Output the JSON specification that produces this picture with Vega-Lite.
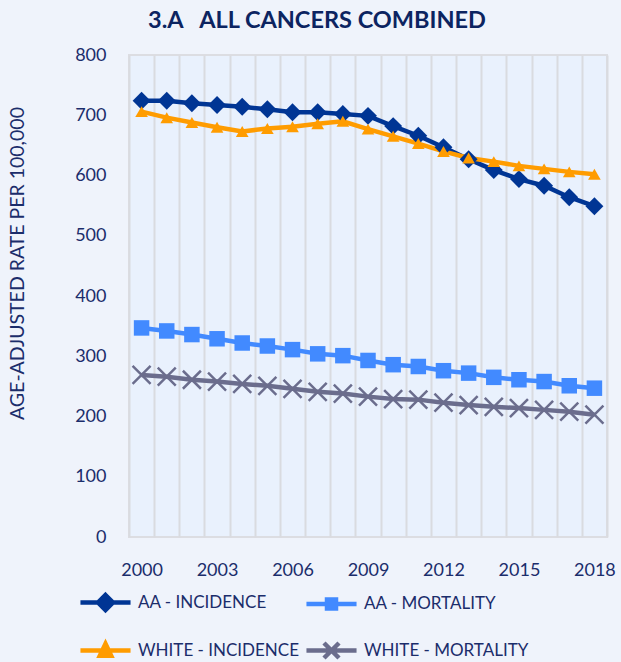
{
  "$schema": "https://vega.github.io/schema/vega-lite/v6.json",
  "width": 478,
  "height": 482,
  "autosize": {"type": "none"},
  "padding": {"left": 129, "top": 55, "right": 14, "bottom": 125},
  "background": "#eff3fb",
  "config": {
    "view": {"fill": "#e9f1fd", "stroke": "#dcdde2", "strokeWidth": 2},
    "font": "Lato"
  },
  "title": {
    "text": "3.A\u00a0\u00a0\u00a0ALL CANCERS COMBINED",
    "anchor": "middle",
    "frame": "group",
    "dx": -51,
    "offset": -10,
    "baseline": "bottom",
    "font": "Lato",
    "fontSize": 23.5,
    "fontWeight": "bold",
    "color": "#0c2461"
  },
  "data": {
    "values": [
      {"year": 2000, "series": "AA - Incidence", "rate": 724},
      {"year": 2001, "series": "AA - Incidence", "rate": 724},
      {"year": 2002, "series": "AA - Incidence", "rate": 720},
      {"year": 2003, "series": "AA - Incidence", "rate": 717},
      {"year": 2004, "series": "AA - Incidence", "rate": 714},
      {"year": 2005, "series": "AA - Incidence", "rate": 710},
      {"year": 2006, "series": "AA - Incidence", "rate": 705},
      {"year": 2007, "series": "AA - Incidence", "rate": 705},
      {"year": 2008, "series": "AA - Incidence", "rate": 702},
      {"year": 2009, "series": "AA - Incidence", "rate": 699},
      {"year": 2010, "series": "AA - Incidence", "rate": 682},
      {"year": 2011, "series": "AA - Incidence", "rate": 666},
      {"year": 2012, "series": "AA - Incidence", "rate": 647},
      {"year": 2013, "series": "AA - Incidence", "rate": 627},
      {"year": 2014, "series": "AA - Incidence", "rate": 609},
      {"year": 2015, "series": "AA - Incidence", "rate": 594},
      {"year": 2016, "series": "AA - Incidence", "rate": 583},
      {"year": 2017, "series": "AA - Incidence", "rate": 564},
      {"year": 2018, "series": "AA - Incidence", "rate": 549},
      {"year": 2000, "series": "White - Incidence", "rate": 706},
      {"year": 2001, "series": "White - Incidence", "rate": 696},
      {"year": 2002, "series": "White - Incidence", "rate": 688},
      {"year": 2003, "series": "White - Incidence", "rate": 680},
      {"year": 2004, "series": "White - Incidence", "rate": 673},
      {"year": 2005, "series": "White - Incidence", "rate": 678},
      {"year": 2006, "series": "White - Incidence", "rate": 681},
      {"year": 2007, "series": "White - Incidence", "rate": 686},
      {"year": 2008, "series": "White - Incidence", "rate": 690},
      {"year": 2009, "series": "White - Incidence", "rate": 677},
      {"year": 2010, "series": "White - Incidence", "rate": 665},
      {"year": 2011, "series": "White - Incidence", "rate": 653},
      {"year": 2012, "series": "White - Incidence", "rate": 640},
      {"year": 2013, "series": "White - Incidence", "rate": 629},
      {"year": 2014, "series": "White - Incidence", "rate": 623},
      {"year": 2015, "series": "White - Incidence", "rate": 616},
      {"year": 2016, "series": "White - Incidence", "rate": 611},
      {"year": 2017, "series": "White - Incidence", "rate": 606},
      {"year": 2018, "series": "White - Incidence", "rate": 602},
      {"year": 2000, "series": "AA - Mortality", "rate": 347},
      {"year": 2001, "series": "AA - Mortality", "rate": 342},
      {"year": 2002, "series": "AA - Mortality", "rate": 336},
      {"year": 2003, "series": "AA - Mortality", "rate": 329},
      {"year": 2004, "series": "AA - Mortality", "rate": 322},
      {"year": 2005, "series": "AA - Mortality", "rate": 317},
      {"year": 2006, "series": "AA - Mortality", "rate": 311},
      {"year": 2007, "series": "AA - Mortality", "rate": 304},
      {"year": 2008, "series": "AA - Mortality", "rate": 301},
      {"year": 2009, "series": "AA - Mortality", "rate": 293},
      {"year": 2010, "series": "AA - Mortality", "rate": 286},
      {"year": 2011, "series": "AA - Mortality", "rate": 283},
      {"year": 2012, "series": "AA - Mortality", "rate": 276},
      {"year": 2013, "series": "AA - Mortality", "rate": 272},
      {"year": 2014, "series": "AA - Mortality", "rate": 265},
      {"year": 2015, "series": "AA - Mortality", "rate": 261},
      {"year": 2016, "series": "AA - Mortality", "rate": 258},
      {"year": 2017, "series": "AA - Mortality", "rate": 251},
      {"year": 2018, "series": "AA - Mortality", "rate": 247},
      {"year": 2000, "series": "White - Mortality", "rate": 269},
      {"year": 2001, "series": "White - Mortality", "rate": 266},
      {"year": 2002, "series": "White - Mortality", "rate": 261},
      {"year": 2003, "series": "White - Mortality", "rate": 258},
      {"year": 2004, "series": "White - Mortality", "rate": 254},
      {"year": 2005, "series": "White - Mortality", "rate": 251},
      {"year": 2006, "series": "White - Mortality", "rate": 246},
      {"year": 2007, "series": "White - Mortality", "rate": 241},
      {"year": 2008, "series": "White - Mortality", "rate": 238},
      {"year": 2009, "series": "White - Mortality", "rate": 233},
      {"year": 2010, "series": "White - Mortality", "rate": 229},
      {"year": 2011, "series": "White - Mortality", "rate": 228},
      {"year": 2012, "series": "White - Mortality", "rate": 223},
      {"year": 2013, "series": "White - Mortality", "rate": 219},
      {"year": 2014, "series": "White - Mortality", "rate": 216},
      {"year": 2015, "series": "White - Mortality", "rate": 214},
      {"year": 2016, "series": "White - Mortality", "rate": 211},
      {"year": 2017, "series": "White - Mortality", "rate": 208},
      {"year": 2018, "series": "White - Mortality", "rate": 203}
    ]
  },
  "encoding": {
    "x": {
      "field": "year",
      "type": "quantitative",
      "scale": {"domain": [1999.5, 2018.5], "nice": false, "zero": false},
      "axis": {
        "title": null,
        "values": [1999.5, 2000.5, 2001.5, 2002.5, 2003.5, 2004.5, 2005.5, 2006.5, 2007.5, 2008.5, 2009.5, 2010.5, 2011.5, 2012.5, 2013.5, 2014.5, 2015.5, 2016.5, 2017.5, 2018.5],
        "labelExpr": "((datum.value + 0.5 - 2000) % 3 === 0 && datum.value < 2018) ? format(datum.value + 0.5, 'd') : ''",
        "labelOffset": 12.58,
        "labelOverlap": false,
        "labelFlush": false,
        "labelBound": false,
        "labelPadding": 24,
        "labelFont": "Lato",
        "labelFontSize": 18,
        "labelColor": "#1b2d6b",
        "grid": true,
        "gridColor": "#d9dbe0",
        "gridWidth": 2,
        "domain": false,
        "ticks": false
      }
    },
    "y": {
      "field": "rate",
      "type": "quantitative",
      "scale": {"domain": [0, 800], "nice": false},
      "axis": {
        "title": "AGE-ADJUSTED RATE PER 100,000",
        "titleFont": "Lato",
        "titleFontSize": 19.5,
        "titleFontWeight": "normal",
        "titleColor": "#1b2d6b",
        "titleBaseline": "middle",
        "titleX": -112,
        "titleY": 208,
        "values": [0, 100, 200, 300, 400, 500, 600, 700, 800],
        "labelFont": "Lato",
        "labelFontSize": 18,
        "labelColor": "#1b2d6b",
        "labelPadding": 23,
        "grid": false,
        "domain": false,
        "ticks": false
      }
    }
  },
  "layer": [
    {
      "mark": {"type": "line", "strokeWidth": 4.5},
      "encoding": {
        "color": {
          "field": "series",
          "type": "nominal",
          "scale": {
            "domain": ["AA - Incidence", "AA - Mortality", "White - Incidence", "White - Mortality"],
            "range": ["#003594", "#428aff", "#ff9c00", "#6b6d8d"]
          },
          "legend": {
            "orient": "none",
            "legendX": -41,
            "legendY": 530,
            "direction": "horizontal",
            "columns": 2,
            "title": null,
            "padding": 0,
            "symbolSize": 900,
            "symbolStrokeWidth": 4.5,
            "labelOffset": 15,
            "columnPadding": -2,
            "rowPadding": 14,
            "labelFont": "Lato",
            "labelFontSize": 17,
            "labelColor": "#1b2d6b",
            "labelLimit": 300,
            "labelExpr": "upper(datum.label)",
            "encode": {
              "symbols": {
                "update": {
                  "shape": {"signal": "datum.value === 'AA - Incidence' ? 'M-1.67,0H1.67M0,-0.5L0.5,0L0,0.5L-0.5,0Z' : datum.value === 'AA - Mortality' ? 'M-1.67,0H1.67M-0.3,-0.3H0.3V0.3H-0.3Z' : datum.value === 'White - Incidence' ? 'M-1.67,0H1.67M0,-0.45L0.38,0.35L-0.38,0.35Z' : 'M-1.67,0H1.67M-0.5,-0.5L0.5,0.5M-0.5,0.5L0.5,-0.5'"},
                  "fill": {"scale": "color", "field": "value"},
                  "stroke": {"scale": "color", "field": "value"},
                  "strokeWidth": {"value": 4.5},
                  "opacity": {"value": 1}
                }
              }
            }
          }
        },
        "detail": {"field": "series"}
      }
    },
    {
      "transform": [{"filter": "datum.series !== 'White - Mortality'"}],
      "mark": {"type": "point", "filled": true, "opacity": 1},
      "encoding": {
        "color": {
          "field": "series",
          "type": "nominal",
          "scale": {
            "domain": ["AA - Incidence", "AA - Mortality", "White - Incidence", "White - Mortality"],
            "range": ["#003594", "#428aff", "#ff9c00", "#6b6d8d"]
          },
          "legend": null
        },
        "shape": {
          "field": "series",
          "type": "nominal",
          "scale": {
            "domain": ["AA - Incidence", "AA - Mortality", "White - Incidence"],
            "range": ["diamond", "square", "triangle-up"]
          },
          "legend": null
        },
        "size": {
          "field": "series",
          "type": "nominal",
          "scale": {
            "domain": ["AA - Incidence", "AA - Mortality", "White - Incidence"],
            "range": [320, 160, 190]
          },
          "legend": null
        }
      }
    },
    {
      "transform": [{"filter": "datum.series === 'White - Mortality'"}],
      "mark": {"type": "point", "filled": false, "shape": "M-1,-1L1,1M-1,1L1,-1", "size": 324, "strokeWidth": 2.5, "opacity": 1},
      "encoding": {
        "color": {
          "field": "series",
          "type": "nominal",
          "scale": {
            "domain": ["AA - Incidence", "AA - Mortality", "White - Incidence", "White - Mortality"],
            "range": ["#003594", "#428aff", "#ff9c00", "#6b6d8d"]
          },
          "legend": null
        }
      }
    }
  ]
}
